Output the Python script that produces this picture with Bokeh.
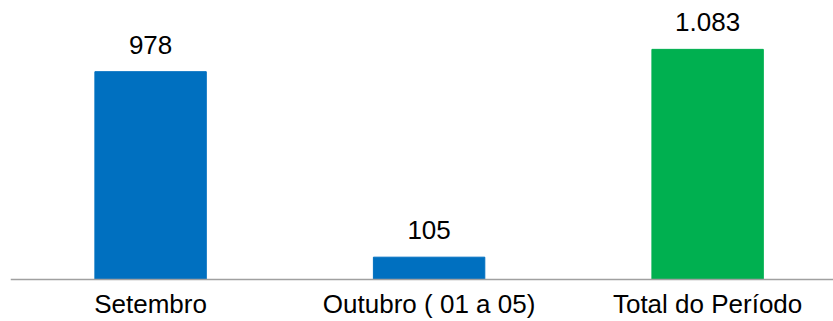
from bokeh.plotting import figure
from bokeh.models import ColumnDataSource, Range1d, Span
from bokeh.core.properties import value
from bokeh.embed import file_html
from bokeh.resources import INLINE

categories = ["Setembro", "Outubro ( 01 a 05)", "Total do Período"]
values = [978, 105, 1083]
colors = ["#0070C0", "#0070C0", "#00B050"]

xs = list(range(len(categories)))
labels = [f"{v:,}".replace(",", ".") for v in values]

src = ColumnDataSource(dict(x=xs, top=values, color=colors, label=labels,
                            cat=categories, zero=[0] * len(xs)))

p = figure(width=833, height=321, output_backend="svg", toolbar_location=None,
           x_range=Range1d(-0.503, 2.452), y_range=Range1d(-197.7, 1313),
           min_border_left=10, min_border_right=0, min_border_top=0, min_border_bottom=0)
p.outline_line_color = None
p.xgrid.visible = False
p.ygrid.visible = False
p.xaxis.visible = False
p.yaxis.visible = False

p.vbar(x="x", top="top", width=0.4, bottom=0, color="color", source=src)
p.add_layout(Span(location=0, dimension="width", line_color="#A0A0A0", line_width=1.5))

p.text(x="x", y="top", text="label", source=src, text_align="center",
       text_baseline="alphabetic", y_offset=-27, text_font=value("Liberation Sans"),
       text_font_size="26px", text_color="#000000")
p.text(x="x", y="zero", text="cat", source=src, text_align="center",
       text_baseline="alphabetic", y_offset=25, text_font=value("Liberation Sans"),
       text_font_size="26px", text_color="#000000")

open("out.html", "w").write(file_html(p, INLINE))
